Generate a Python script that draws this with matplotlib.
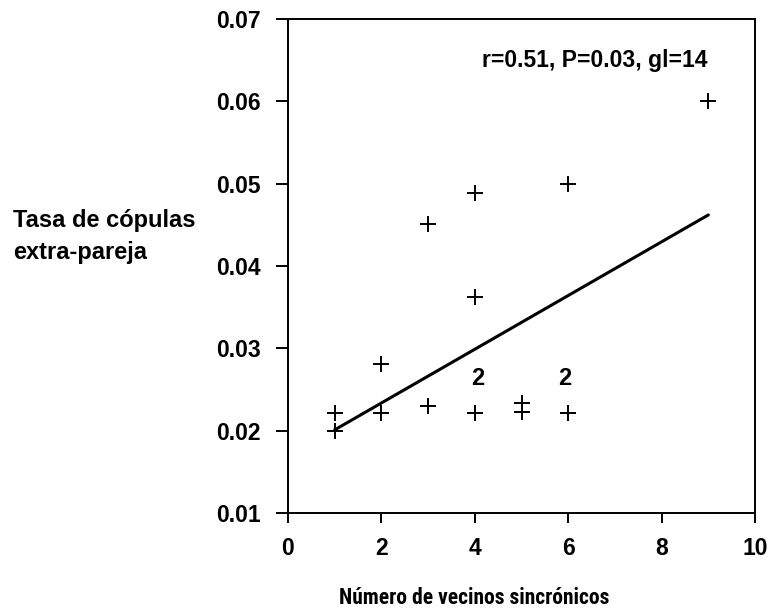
import numpy as np
import matplotlib
matplotlib.use("Agg")
from matplotlib import pyplot as plt

plt.rcParams['font.family'] = ['Liberation Sans', 'DejaVu Sans']
plt.rcParams['font.weight'] = 'bold'

# datos
vecinos = [1, 1, 2, 2, 3, 3, 4, 4, 4, 4, 5, 5, 6, 6, 6, 9]
tasa = [0.0222, 0.0200, 0.0281, 0.0222, 0.0230, 0.0451, 0.0489, 0.0362,
        0.0222, 0.0222, 0.0234, 0.0223, 0.0499, 0.0222, 0.0222, 0.0601]
recta_x = [1, 9]
recta_y = [0.0201, 0.0462]
repetidos_x = [4.06, 5.93]
repetidos_y = [0.0263, 0.0263]
repetidos_txt = ["2", "2"]
xticks = [0, 2, 4, 6, 8, 10]
yticks = [0.01, 0.02, 0.03, 0.04, 0.05, 0.06, 0.07]
estad = "r=0.51, P=0.03, gl=14"

fig = plt.figure(figsize=(7.72, 6.09), dpi=100)
ax = fig.add_axes([288/772, 1-513/609, (755-288)/772, (513-19)/609])

ax.plot(recta_x, recta_y, color='black', lw=2.2, solid_capstyle='round')
ax.plot(vecinos, tasa, ls='none', marker='+', ms=11, mew=1.4, color='black')
for xx, yy, t in zip(repetidos_x, repetidos_y, repetidos_txt):
    ax.text(xx, yy, t, ha='center', va='center', fontsize=17, fontweight='bold')
ax.text(8.99, 0.0649, estad, ha='right', va='center', fontsize=16.5, fontweight='bold')

ax.set_xlim(0, 10)
ax.set_ylim(0.01, 0.07)
ax.set_xticks(xticks)
ax.set_xticklabels([str(v) for v in xticks])
ax.set_yticks(yticks)
ax.set_yticklabels(["%.2f" % v for v in yticks])
ax.tick_params(axis='x', direction='out', length=7.5, width=1.4, pad=10, labelsize=16.5)
ax.tick_params(axis='y', direction='out', length=8.6, width=1.4, pad=11, labelsize=16.5)
for s in ax.spines.values():
    s.set_linewidth(1.4)

fig.text(13/772, 1-236/609, "Tasa de cópulas\nextra-pareja", ha='left', va='center',
         fontsize=17, fontweight='bold', linespacing=1.5)
fig.text(474/772, 1-604/609, "Número de vecinos sincrónicos", ha='center', va='baseline',
         fontsize=15.5, fontweight='bold',
         family=['Roboto Condensed', 'Liberation Sans', 'DejaVu Sans'])

fig.savefig("out.png", dpi=100)
